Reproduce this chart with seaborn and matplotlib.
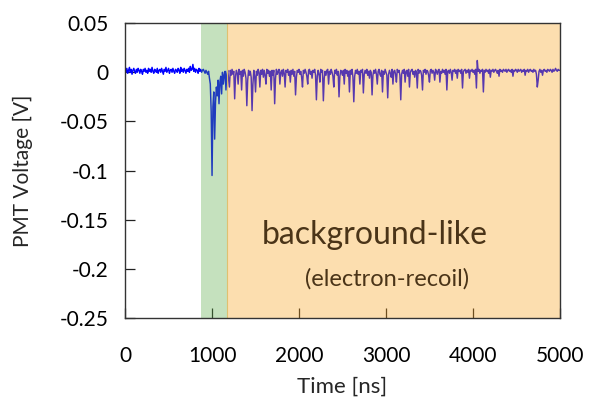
import numpy as np
import pandas as pd
import matplotlib
matplotlib.use("Agg")
import matplotlib.pyplot as plt
import seaborn as sns

# sampling grid of the waveform [ns]
time_ns = np.arange(0, 5001, 10)

# pre-trigger baseline, 0 - 890 ns
volt_pre = [
    0.003, 0.000, 0.004, -0.001, 0.002, 0.005, 0.000, 0.003, -0.002, 0.002,
    0.004, 0.001, -0.001, 0.003, 0.000, 0.004, 0.002, -0.001, 0.003, 0.001,
    -0.002, 0.003, 0.001, 0.004, 0.000, 0.002, -0.001, 0.004, 0.001, 0.003,
    0.000, 0.005, 0.001, -0.001, 0.003, 0.002, 0.000, 0.004, -0.001, 0.002,
    0.003, 0.000, 0.004, 0.001, -0.002, 0.003, 0.001, 0.005, 0.000, 0.002,
    0.004, -0.001, 0.002, 0.003, 0.000, 0.004, 0.001, -0.001, 0.003, 0.002,
    0.000, 0.004, 0.002, -0.001, 0.005, 0.001, 0.003, 0.000, 0.004, 0.002,
    -0.001, 0.003, 0.001, 0.004, 0.000, 0.006, 0.002, 0.003, 0.008, 0.001,
    0.004, 0.000, 0.003, 0.002, -0.001, 0.004, 0.001, 0.003, 0.000, 0.002,
]

# prompt pulse, 900 - 1190 ns
volt_prompt = [
    0.003, 0.001, -0.001, 0.002, 0.000, -0.002, 0.001, -0.006, -0.012, -0.040,
    -0.105, -0.035, -0.020, -0.068, -0.030, -0.015, -0.024, -0.008, -0.032, -0.010,
    -0.004, -0.022, 0.000, -0.012, -0.003, 0.001, -0.018, -0.002, 0.002, -0.006,
]

# delayed tail, 1200 - 5000 ns
volt_tail = [
    -0.015, 0.002, -0.003, 0.003, -0.002, 0.001, -0.027, -0.004, 0.002, -0.001,
    -0.012, 0.003, -0.002, 0.001, -0.018, 0.002, -0.004, 0.003, 0.000, -0.006,
    -0.034, -0.008, 0.002, -0.003, 0.001, -0.005, -0.039, -0.012, 0.002, -0.004,
    -0.020, 0.001, -0.003, 0.003, 0.000, -0.015, 0.002, -0.002, 0.003, -0.005,
    0.002, -0.003, -0.012, 0.003, -0.001, 0.002, -0.004, 0.001, -0.018, 0.002,
    -0.003, 0.002, -0.032, -0.006, 0.003, -0.002, 0.001, 0.003, -0.012, 0.000,
    0.002, -0.004, 0.003, -0.001, -0.015, 0.002, 0.000, 0.003, -0.003, 0.001,
    -0.010, 0.002, -0.002, 0.003, -0.004, 0.001, -0.023, -0.005, 0.002, 0.000,
    0.003, -0.002, 0.001, -0.005, -0.015, 0.002, -0.001, 0.003, 0.000, -0.004,
    -0.012, 0.002, 0.003, -0.002, 0.001, -0.006, 0.002, 0.000, 0.003, -0.003,
    -0.028, -0.004, 0.002, -0.002, -0.010, 0.003, 0.000, 0.002, -0.029, -0.006,
    0.001, -0.003, 0.002, 0.003, -0.012, 0.001, -0.002, 0.003, 0.000, -0.004,
    -0.015, 0.002, -0.001, 0.003, -0.003, 0.001, -0.025, -0.004, 0.002, 0.000,
    -0.003, 0.002, -0.012, 0.003, -0.001, 0.002, -0.004, 0.001, -0.020, 0.002,
    -0.002, 0.003, -0.005, -0.030, -0.004, 0.002, -0.001, 0.003, -0.002, 0.001,
    -0.012, 0.002, 0.000, 0.003, -0.021, -0.002, 0.002, -0.001, 0.003, -0.003,
    0.001, -0.006, 0.002, 0.000, -0.023, -0.003, 0.002, -0.001, 0.003, -0.002,
    -0.012, 0.001, 0.003, -0.002, -0.004, 0.002, -0.020, 0.001, -0.002, 0.003,
    0.000, -0.003, -0.026, -0.002, 0.002, -0.001, -0.005, 0.003, -0.012, 0.001,
    0.002, -0.002, -0.010, 0.003, 0.000, 0.002, -0.003, -0.028, -0.002, 0.002,
    -0.001, 0.003, -0.010, 0.001, 0.002, -0.004, 0.003, -0.015, 0.000, 0.002,
    0.003, -0.002, 0.001, -0.005, 0.002, 0.000, -0.016, 0.003, -0.001, 0.002,
    0.001, -0.003, -0.018, 0.002, 0.000, 0.003, -0.002, 0.002, 0.001, -0.003,
    -0.010, 0.002, 0.003, -0.001, 0.002, 0.000, -0.008, 0.003, 0.001, -0.002,
    0.002, 0.003, -0.010, 0.001, -0.001, 0.003, 0.000, 0.002, -0.002, 0.003,
    -0.018, 0.001, 0.002, -0.001, 0.003, 0.000, -0.008, 0.002, 0.001, 0.003,
    -0.001, 0.002, -0.006, 0.003, 0.001, 0.002, -0.001, 0.003, -0.016, 0.001,
    0.002, 0.003, -0.001, 0.002, 0.000, 0.003, -0.006, 0.002, 0.001, 0.003,
    0.000, 0.002, -0.002, 0.003, -0.016, 0.012, 0.001, 0.003, -0.001, 0.002,
    0.001, 0.003, -0.020, 0.002, 0.000, 0.003, 0.001, 0.002, -0.001, 0.003,
    -0.005, 0.002, 0.001, 0.003, 0.000, 0.002, 0.003, 0.001, -0.001, 0.002,
    -0.004, 0.003, 0.001, 0.002, 0.000, 0.003, 0.002, 0.001, 0.003, 0.000,
    0.002, 0.003, 0.001, 0.002, 0.000, 0.003, -0.004, 0.002, 0.001, 0.003,
    0.002, 0.000, 0.003, 0.001, 0.002, 0.003, 0.000, 0.002, 0.001, 0.003,
    -0.003, 0.002, 0.001, 0.003, 0.000, 0.002, 0.003, 0.001, 0.002, 0.000,
    0.003, 0.001, 0.002, -0.002, -0.015, -0.008, 0.001, 0.003, 0.000, 0.002,
    -0.003, 0.002, 0.003, 0.001, 0.002, 0.000, 0.003, 0.002, 0.001, 0.003,
    0.002, 0.000, 0.003, 0.001, 0.002, 0.004, 0.002, 0.001, 0.003, 0.002,
    0.002,
]

# shaded windows [ns]
prompt_window = (873, 1172)
tail_window = (1172, 5000)

df = pd.DataFrame({"t": time_ns, "v": volt_pre + volt_prompt + volt_tail})

sns.set_theme(style="ticks")
plt.rcParams["font.family"] = ["Lato", "DejaVu Sans"]

fig = plt.figure(figsize=(5.9, 3.99), dpi=100)
ax = fig.add_axes([0.212, 0.203, 0.737, 0.739])

sns.lineplot(data=df, x="t", y="v", ax=ax, color="#0000ff", linewidth=1.05, zorder=1)

ax.axvspan(*prompt_window, color="#5aaa46", alpha=0.35, lw=0, zorder=2)
ax.axvspan(*tail_window, color="#f9a11b", alpha=0.35, lw=0, zorder=2)
ax.axvline(prompt_window[1], color="#e0c070", lw=0.8, zorder=2)

ax.text(2870, -0.166, "background-like", fontsize=23, color="#4a3418",
        ha="center", va="center", zorder=3)
ax.text(3010, -0.210, "(electron-recoil)", fontsize=17, color="#4a3418",
        ha="center", va="center", zorder=3)

ax.set_xlim(0, 5000)
ax.set_ylim(-0.25, 0.05)
ax.set_xticks([0, 1000, 2000, 3000, 4000, 5000])
ax.set_yticks([0.05, 0, -0.05, -0.1, -0.15, -0.2, -0.25])
ax.set_yticklabels(["0.05", "0", "-0.05", "-0.1", "-0.15", "-0.2", "-0.25"])
ax.tick_params(direction="in", length=7, width=0.9, labelsize=15,
               colors="#222222", labelcolor="black")
ax.tick_params(axis="x", pad=20)
ax.tick_params(axis="y", pad=12)
ax.set_xlabel("Time [ns]", fontsize=16, labelpad=8)
ax.set_ylabel("PMT Voltage [V]", fontsize=15, labelpad=19)

for s in ax.spines.values():
    s.set_visible(True)
    s.set_linewidth(1.0)
    s.set_color("#333333")
    s.set_zorder(4)

fig.savefig("out.png", dpi=100)
